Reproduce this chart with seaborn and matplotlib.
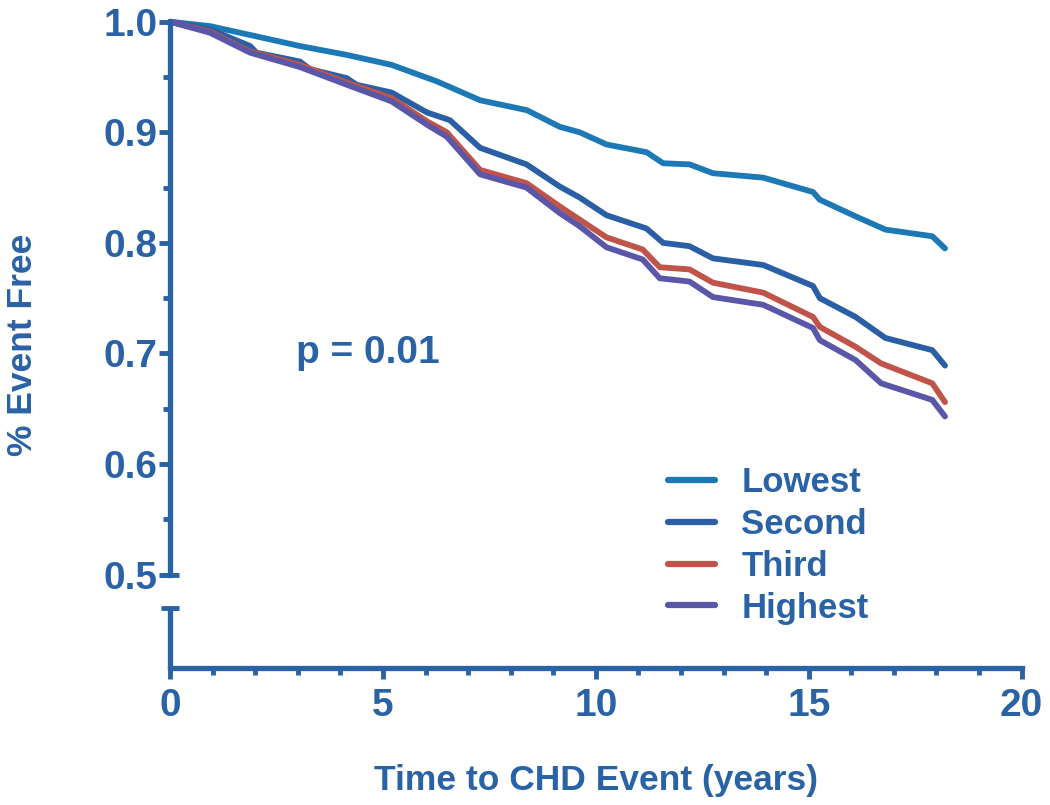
import pandas as pd
import seaborn as sns
import matplotlib.pyplot as plt
from matplotlib.ticker import MultipleLocator, FixedLocator

# Kaplan-Meier style survival curves
t_lowest = [0, 0.94, 2.0, 3.05, 4.15, 5.2, 6.27, 7.28, 8.38, 9.15, 9.62, 10.25, 11.19,
            11.58, 12.2, 12.75, 13.93, 15.1, 15.26, 16.1, 16.8, 17.9, 18.2]
s_lowest = [1.0, 0.996, 0.987, 0.978, 0.970, 0.961, 0.946, 0.929, 0.920, 0.905, 0.900, 0.889, 0.882,
            0.872, 0.871, 0.863, 0.859, 0.846, 0.839, 0.824, 0.812, 0.806, 0.795]

t_second = [0, 0.94, 1.88, 2.03, 3.05, 3.29, 4.15, 4.38, 5.2, 6.03, 6.57, 7.28, 8.37, 9.15,
            9.62, 10.25, 11.19, 11.58, 12.2, 12.75, 13.93, 15.1, 15.26, 16.1, 16.8, 17.9, 18.2]
s_second = [1.0, 0.993, 0.978, 0.972, 0.964, 0.957, 0.949, 0.943, 0.936, 0.918, 0.911, 0.886, 0.871, 0.851,
            0.841, 0.825, 0.813, 0.800, 0.797, 0.786, 0.780, 0.761, 0.750, 0.733, 0.714, 0.703, 0.689]

t_third = [0, 0.94, 1.88, 3.05, 4.15, 5.2, 6.03, 6.5, 7.28, 8.37, 9.15, 9.62, 10.25, 11.1,
           11.5, 12.2, 12.75, 13.93, 15.1, 15.26, 16.1, 16.7, 17.9, 18.2]
s_third = [1.0, 0.991, 0.973, 0.961, 0.945, 0.931, 0.910, 0.900, 0.866, 0.854, 0.833, 0.821, 0.805, 0.794,
           0.778, 0.776, 0.764, 0.755, 0.733, 0.724, 0.706, 0.691, 0.673, 0.656]

t_highest = [0, 0.94, 1.88, 3.05, 4.15, 5.2, 6.03, 6.5, 7.28, 8.37, 9.15, 9.62, 10.25, 11.1,
             11.5, 12.2, 12.75, 13.93, 15.1, 15.26, 16.1, 16.7, 17.9, 18.2]
s_highest = [1.0, 0.990, 0.972, 0.959, 0.943, 0.928, 0.907, 0.896, 0.862, 0.850, 0.827, 0.815, 0.796, 0.785,
             0.768, 0.765, 0.751, 0.744, 0.723, 0.712, 0.694, 0.673, 0.658, 0.643]

groups = ['Lowest', 'Second', 'Third', 'Highest']
colors = ['#1c79b6', '#2a5fa6', '#c0544a', '#5a57a8']
axis_color = '#2a62a6'

frames = []
for g, t, s in zip(groups, [t_lowest, t_second, t_third, t_highest],
                   [s_lowest, s_second, s_third, s_highest]):
    frames.append(pd.DataFrame({'time': t, 'surv': s, 'group': g}))
df = pd.concat(frames, ignore_index=True)

sns.set_style('white')
plt.rcParams['font.family'] = ['Liberation Sans', 'DejaVu Sans']
plt.rcParams['font.weight'] = 'bold'

fig = plt.figure(figsize=(10.5, 8.05), dpi=100)
ax = fig.add_axes([0.162, 0.170, 0.811, 0.803])

y_bottom = 0.4154
sns.lineplot(data=df, x='time', y='surv', hue='group', palette=colors, hue_order=groups,
             linewidth=4.2, ax=ax, legend=True, sort=False, estimator=None)
for line in ax.lines:
    line.set_clip_on(False)

ax.set_xlim(0, 20)
ax.set_ylim(y_bottom, 1.0)

# axes styling
for side in ['top', 'right']:
    ax.spines[side].set_visible(False)
for side in ['left', 'bottom']:
    ax.spines[side].set_color(axis_color)
    ax.spines[side].set_linewidth(3.8)
ax.spines['left'].set_bounds(0.5, 1.0)

# broken axis: lower piece of the y spine and the caps
y_break = 0.47
ax.axvline(0, ymin=0, ymax=(y_break - y_bottom) / (1.0 - y_bottom), color=axis_color,
           lw=3.8, clip_on=False, solid_capstyle='butt')
ax.plot([0, 0], [0.5, y_break], ls='none', marker='_', ms=13, mew=3.5, color=axis_color,
        clip_on=False)

ax.set_yticks([0.5, 0.6, 0.7, 0.8, 0.9, 1.0])
ax.set_yticklabels(['0.5', '0.6', '0.7', '0.8', '0.9', '1.0'])
ax.yaxis.set_minor_locator(FixedLocator([0.55, 0.65, 0.75, 0.85, 0.95]))
ax.set_xticks([0, 5, 10, 15, 20])
ax.xaxis.set_minor_locator(MultipleLocator(1))
ax.tick_params(axis='both', which='major', direction='out', length=8, width=3.5,
               color=axis_color, labelcolor=axis_color, labelsize=28, pad=1)
ax.tick_params(axis='both', which='minor', direction='out', length=5, width=3.5,
               color=axis_color)
ax.tick_params(axis='x', which='major', pad=6)
ax.tick_params(left=True, bottom=True, which='both')

ax.set_xlabel('Time to CHD Event (years)', fontsize=25.5, fontweight='bold',
              color=axis_color)
ax.xaxis.set_label_coords(0.5, -0.148)
ax.set_ylabel('% Event Free', fontsize=25.5, fontweight='bold', color=axis_color)
ax.yaxis.set_label_coords(-0.154, 0.5)

ax.text(2.95, 0.70, 'p = 0.01', fontsize=28, fontweight='bold', color=axis_color,
        ha='left', va='center')

leg = ax.legend(loc='upper left', bbox_to_anchor=(0.585, 0.312), frameon=False,
                fontsize=25, handlelength=1.35, handletextpad=0.75, labelspacing=0.25,
                borderaxespad=0, borderpad=0)
for text in leg.get_texts():
    text.set_color(axis_color)
    text.set_fontweight('bold')
for h in leg.get_lines():
    h.set_linewidth(4.5)

fig.savefig('out.png', dpi=100)
